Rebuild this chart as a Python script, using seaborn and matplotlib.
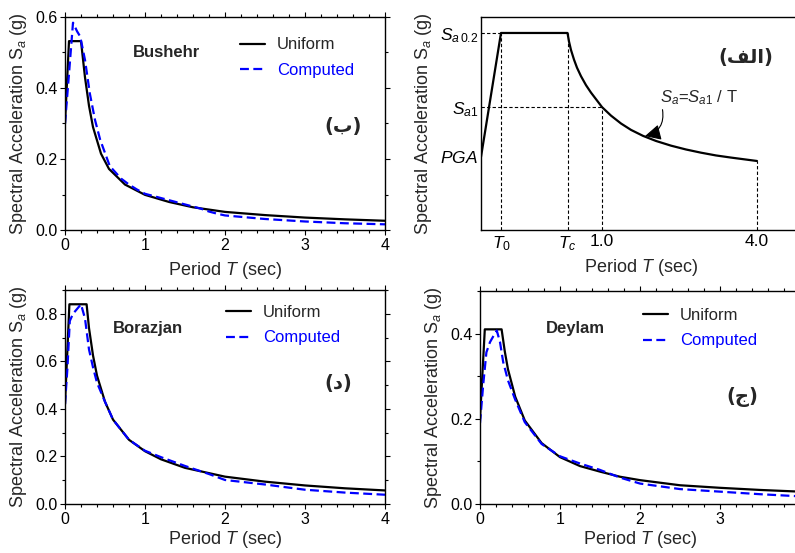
import matplotlib
matplotlib.use("Agg")
import matplotlib.pyplot as plt
from matplotlib.ticker import MultipleLocator, FormatStrFormatter
import seaborn as sns

# --- données ---
# Bushehr
bus_t_uni = [0, 0.05, 0.2, 0.25, 0.3, 0.35, 0.45, 0.55, 0.75, 1.0, 1.3, 1.6, 2.0, 2.5, 3.0, 3.5, 4.0]
bus_sa_uni = [0.30, 0.532, 0.532, 0.43, 0.350, 0.290, 0.215, 0.172, 0.128, 0.099, 0.079, 0.064, 0.051, 0.042, 0.035, 0.030, 0.026]
bus_t_cmp = [0, 0.05, 0.1, 0.15, 0.19, 0.25, 0.31, 0.375, 0.44, 0.56, 0.7, 0.8, 0.9, 1.0, 1.2, 1.5, 1.7, 1.8, 1.9, 2.0, 2.5, 3.0, 3.5, 4.0]
bus_sa_cmp = [0.30, 0.44, 0.584, 0.56, 0.545, 0.479, 0.385, 0.31, 0.254, 0.180, 0.145, 0.128, 0.114, 0.102, 0.090, 0.072, 0.060, 0.052, 0.046, 0.041, 0.031, 0.024, 0.019, 0.016]

# Borazjan
bor_t_uni = [0, 0.055, 0.27, 0.3, 0.35, 0.4, 0.5, 0.6, 0.8, 1.0, 1.2, 1.5, 2.0, 2.5, 3.0, 3.5, 4.0]
bor_sa_uni = [0.42, 0.84, 0.84, 0.74, 0.625, 0.54, 0.43, 0.355, 0.27, 0.222, 0.188, 0.152, 0.115, 0.094, 0.078, 0.066, 0.057]
bor_t_cmp = [0, 0.03, 0.06, 0.1, 0.15, 0.2, 0.25, 0.3, 0.35, 0.4, 0.5, 0.6, 0.8, 1.0, 1.2, 1.5, 1.8, 2.0, 2.5, 3.0, 3.5, 4.0]
bor_sa_cmp = [0.42, 0.57, 0.77, 0.80, 0.82, 0.84, 0.78, 0.65, 0.575, 0.51, 0.43, 0.355, 0.27, 0.224, 0.197, 0.160, 0.126, 0.101, 0.082, 0.060, 0.048, 0.039]

# Deylam
dey_t_uni = [0, 0.06, 0.27, 0.31, 0.35, 0.44, 0.56, 0.77, 1.0, 1.25, 1.5, 1.75, 2.0, 2.5, 3.0, 3.5, 4.0]
dey_sa_uni = [0.20, 0.41, 0.41, 0.358, 0.316, 0.252, 0.196, 0.143, 0.110, 0.089, 0.076, 0.064, 0.056, 0.044, 0.038, 0.033, 0.029]
dey_t_cmp = [0, 0.04, 0.08, 0.125, 0.17, 0.21, 0.25, 0.29, 0.35, 0.44, 0.56, 0.77, 1.0, 1.25, 1.5, 1.75, 2.0, 2.5, 3.0, 3.5, 4.0]
dey_sa_cmp = [0.19, 0.28, 0.356, 0.38, 0.395, 0.407, 0.38, 0.333, 0.29, 0.245, 0.192, 0.141, 0.112, 0.095, 0.080, 0.062, 0.048, 0.035, 0.029, 0.023, 0.018]

# Spectre schématique (unités arbitraires)
sch_x = [0, 0.20, 0.865, 0.88, 0.90, 0.93, 0.96, 1.00, 1.05, 1.10, 1.16, 1.21, 1.30, 1.40, 1.50,
         1.62, 1.75, 1.90, 2.05, 2.20, 2.35, 2.50, 2.63, 2.76]
sch_y = [0.343, 0.925, 0.925, 0.885, 0.845, 0.800, 0.762, 0.722, 0.680, 0.645, 0.608, 0.577, 0.537, 0.500, 0.470,
         0.442, 0.418, 0.396, 0.378, 0.363, 0.350, 0.340, 0.332, 0.324]
sch_xticks = [0.20, 0.865, 1.21, 2.76]
sch_xlabels = ["$T_0$", "$T_c$", "1.0", "4.0"]
sch_yticks = [0.343, 0.577, 0.925]
sch_ylabels = ["$PGA$", "$S_{a1}$", "$S_{a\\,0.2}$"]

sns.set_theme(style="ticks")
plt.rcParams["font.family"] = ["Liberation Sans", "DejaVu Sans"]
plt.rcParams["mathtext.fontset"] = "custom"
plt.rcParams["mathtext.rm"] = "Liberation Sans"
plt.rcParams["mathtext.it"] = "Liberation Sans:italic"
plt.rcParams["mathtext.bf"] = "Liberation Sans:bold"

BLUE = "#0000ff"
YLAB = "Spectral Acceleration S$_a$ (g)"
XLAB = "Period $T$ (sec)"

fig = plt.figure(figsize=(7.95, 5.53), dpi=100)
W, H = 795, 553


def add_ax(left, top, right, bottom):
    return fig.add_axes([left / W, 1 - bottom / H, (right - left) / W, (bottom - top) / H])


def data_panel(ax, t_u, s_u, t_c, s_c, ymax, name, name_pos, leg_pos, ar_txt, ar_pos, xticks, xpad=5):
    sns.lineplot(x=t_u, y=s_u, ax=ax, color="black", linewidth=1.6, label="Uniform")
    sns.lineplot(x=t_c, y=s_c, ax=ax, color=BLUE, linewidth=1.6, linestyle=(0, (4, 2)), label="Computed")
    ax.set_xlim(0, 4)
    ax.set_ylim(0, ymax)
    ax.set_xticks(xticks)
    ax.xaxis.set_minor_locator(MultipleLocator(0.2))
    ax.yaxis.set_major_locator(MultipleLocator(0.2))
    ax.yaxis.set_minor_locator(MultipleLocator(0.1))
    ax.yaxis.set_major_formatter(FormatStrFormatter("%.1f"))
    ax.xaxis.set_major_formatter(FormatStrFormatter("%d"))
    ax.tick_params(which="both", direction="out", top=True, right=True, width=0.8,
                   labelsize=11.5, pad=2, colors="black")
    ax.tick_params(which="major", length=3.5)
    ax.tick_params(which="minor", length=2.5)
    for s in ax.spines.values():
        s.set_linewidth(1.0)
        s.set_color("black")
    ax.set_ylabel(YLAB, fontsize=13, labelpad=4)
    ax.set_xlabel(XLAB, fontsize=13, labelpad=xpad)
    ax.text(name_pos[0], name_pos[1], name, transform=ax.transAxes, fontsize=12,
            fontweight="bold", ha="left", va="center")
    ax.text(ar_pos[0], ar_pos[1], ar_txt, transform=ax.transAxes, fontsize=14,
            fontweight="bold", ha="center", va="center", family=["DejaVu Sans"])
    leg = ax.legend(loc="upper left", bbox_to_anchor=leg_pos, frameon=False, fontsize=12,
                    handlelength=1.5, handletextpad=0.72, labelspacing=0.65,
                    borderpad=0, borderaxespad=0)
    leg.get_texts()[1].set_color(BLUE)


ax1 = add_ax(65, 17, 385, 230)
data_panel(ax1, bus_t_uni, bus_sa_uni, bus_t_cmp, bus_sa_cmp, 0.6, "Bushehr",
           (0.2125, 0.831), (0.547, 0.904), "(ب)", (0.869, 0.484), [0, 1, 2, 3, 4])

ax3 = add_ax(65, 290, 385, 504)
data_panel(ax3, bor_t_uni, bor_sa_uni, bor_t_cmp, bor_sa_cmp, 0.9, "Borazjan",
           (0.15, 0.822), (0.503, 0.932), "(د)", (0.853, 0.565), [0, 1, 2, 3, 4], xpad=2)

ax4 = add_ax(480, 291, 800, 504)
data_panel(ax4, dey_t_uni, dey_sa_uni, dey_t_cmp, dey_sa_cmp, 0.5, "Deylam",
           (0.206, 0.826), (0.509, 0.922), "(ج)", (0.819, 0.502), [0, 1, 2, 3], xpad=2)

# --- schéma du spectre de conception ---
ax2 = add_ax(481, 17, 801, 230)
sns.lineplot(x=sch_x, y=sch_y, ax=ax2, color="black", linewidth=1.6, sort=False)
ax2.set_xlim(0, 3.2)
ax2.set_ylim(0, 1)
dash = dict(color="black", linewidth=0.8, linestyle=(0, (3, 2)))
ax2.plot([0, sch_x[1]], [sch_y[1], sch_y[1]], **dash)
ax2.plot([sch_x[1], sch_x[1]], [0, sch_y[1]], **dash)
ax2.plot([sch_x[2], sch_x[2]], [0, sch_y[2]], **dash)
ax2.plot([0, sch_xticks[2]], [sch_yticks[1], sch_yticks[1]], **dash)
ax2.plot([sch_xticks[2], sch_xticks[2]], [0, sch_yticks[1]], **dash)
ax2.plot([sch_x[-1], sch_x[-1]], [0, sch_y[-1]], **dash)
ax2.set_xticks(sch_xticks)
ax2.set_xticklabels(sch_xlabels)
ax2.set_yticks(sch_yticks)
ax2.set_yticklabels(sch_ylabels)
ax2.tick_params(length=0, labelsize=12.5, pad=3, colors="black")
ax2.tick_params(axis="y", pad=2)
for s in ax2.spines.values():
    s.set_linewidth(1.0)
    s.set_color("black")
ax2.set_ylabel(YLAB, fontsize=13, labelpad=4)
ax2.set_xlabel(XLAB, fontsize=13, labelpad=3)
ax2.text(1.79, 0.62, "$S_a$=$S_{a1}$ / T", fontsize=12, ha="left", va="center")
ax2.annotate("", xy=(1.64, 0.441), xytext=(1.815, 0.565),
             arrowprops=dict(arrowstyle="-|>,head_length=0.8,head_width=0.4", color="black",
                             lw=0.8, connectionstyle="arc3,rad=-0.45", shrinkA=0, shrinkB=0))
ax2.text(2.65, 0.808, "(" + "\ufed2\ufedf\ufe8d" + ")", fontsize=14, fontweight="bold",
         ha="center", va="center", family=["DejaVu Sans"])

fig.savefig("out.png", dpi=100)
